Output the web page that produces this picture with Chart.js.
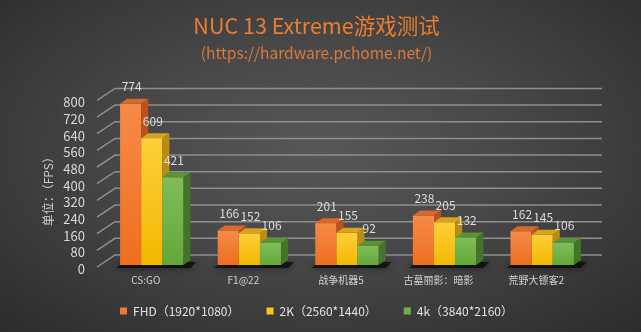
<!DOCTYPE html>
<html>
<head>
<meta charset="utf-8">
<script src="https://cdn.jsdelivr.net/npm/chart.js@4.4.0/dist/chart.umd.min.js"></script>
<style>
  html, body { margin: 0; padding: 0; background: #2c2c2c; }
  #wrap {
    width: 641px; height: 332px;
    background: radial-gradient(ellipse 70% 75% at 50% 45%, #575757 0%, #474747 45%, #2d2d2d 100%);
  }
</style>
</head>
<body>
<div id="wrap"><canvas id="myChart" width="641" height="332"></canvas></div>
<script>
const categories = ['CS:GO', 'F1@22', '战争机器5', '古墓丽影：暗影', '荒野大镖客2'];
const fhdValues = [774, 166, 201, 238, 162];
const k2Values = [609, 152, 155, 205, 145];
const k4Values = [421, 106, 92, 132, 106];
const seriesNames = ['FHD（1920*1080）', '2K（2560*1440）', '4k（3840*2160）'];
const yTicks = [0, 80, 160, 240, 320, 400, 480, 560, 640, 720, 800];
const yTitle = '单位：（FPS）';

const FONT = "'Noto Sans CJK SC', 'Noto Sans', sans-serif";

// front / side / top colours for each series
const faces = [
  { front: ['#f68a48', '#ee6f1f'], side: '#b9521c', roof: '#d9682c' },
  { front: ['#ffcf3a', '#f2b800'], side: '#b88d12', roof: '#d7a420' },
  { front: ['#80bd58', '#62a83a'], side: '#44742a', roof: '#5a9238' },
];
const DX = 7, DY = -5;        // bar depth
const WDX = 18, WDY = -12;    // back wall depth

const fake3d = {
  id: 'fake3d',
  beforeDatasetsDraw(chart) {
    const { ctx, chartArea } = chart;
    const y = chart.scales.y;

    // back wall grid lines
    ctx.save();
    ctx.strokeStyle = '#8e8e8e';
    ctx.lineWidth = 1.5;
    const x0 = chartArea.left - 6;
    yTicks.forEach(v => {
      const py = y.getPixelForValue(v) + 2;
      ctx.beginPath();
      ctx.moveTo(x0, py);
      ctx.lineTo(x0 + WDX, py + WDY);
      ctx.lineTo(chartArea.right + 11, py + WDY);
      ctx.stroke();
    });
    ctx.restore();

    // y axis title
    ctx.save();
    ctx.translate(48, (chartArea.top + chartArea.bottom) / 2 + 7);
    ctx.rotate(-Math.PI / 2);
    ctx.fillStyle = '#cfcfcf';
    ctx.font = '12px ' + FONT;
    ctx.textAlign = 'center';
    ctx.textBaseline = 'middle';
    ctx.fillText(yTitle, 0, 0);
    ctx.restore();

    const metas = [0, 1, 2].map(i => chart.getDatasetMeta(i));

    // floor shadows under each group
    ctx.save();
    ctx.fillStyle = 'rgba(0,0,0,0.6)';
    ctx.shadowColor = 'rgba(0,0,0,0.9)';
    ctx.shadowBlur = 7;
    categories.forEach((c, i) => {
      const a = metas[0].data[i], b = metas[2].data[i];
      const l = a.x - a.width / 2 - 4, r = b.x + b.width / 2 + DX + 6;
      const base = a.base;
      ctx.beginPath();
      ctx.moveTo(l, base + 3);
      ctx.lineTo(r - 6, base + 3);
      ctx.lineTo(r, base - 3);
      ctx.lineTo(l + 8, base - 3);
      ctx.closePath();
      ctx.fill();
    });
    ctx.restore();

    // bars
    metas.forEach((meta, di) => {
      const f = faces[di];
      meta.data.forEach(bar => {
        const l = bar.x - bar.width / 2, r = bar.x + bar.width / 2;
        const t = bar.y, b = bar.base;
        const g = ctx.createLinearGradient(0, t, 0, b);
        g.addColorStop(0, f.front[0]);
        g.addColorStop(1, f.front[1]);
        ctx.fillStyle = g;
        ctx.fillRect(l, t, r - l, b - t);
        ctx.fillStyle = f.side;
        ctx.beginPath();
        ctx.moveTo(r, t); ctx.lineTo(r + DX, t + DY); ctx.lineTo(r + DX, b + DY); ctx.lineTo(r, b);
        ctx.closePath(); ctx.fill();
        ctx.fillStyle = f.roof;
        ctx.beginPath();
        ctx.moveTo(l, t); ctx.lineTo(l + DX, t + DY); ctx.lineTo(r + DX, t + DY); ctx.lineTo(r, t);
        ctx.closePath(); ctx.fill();
      });
    });

    // value labels
    ctx.save();
    ctx.fillStyle = '#dcdcdc';
    ctx.font = '12px ' + FONT;
    ctx.textAlign = 'center';
    ctx.textBaseline = 'middle';
    metas.forEach((meta, di) => {
      const vals = chart.data.datasets[di].data;
      meta.data.forEach((bar, i) => {
        ctx.fillText(String(vals[i]), bar.x + 1, bar.y + DY - 12);
      });
    });
    ctx.restore();
    return false;
  }
};

const ctx = document.getElementById('myChart').getContext('2d');
// eslint-disable-next-line no-undef, no-unused-vars
const chart = new Chart(ctx, {
  type: 'bar',
  data: {
    labels: categories,
    datasets: [
      { label: seriesNames[0], data: fhdValues, backgroundColor: '#f07a2c' },
      { label: seriesNames[1], data: k2Values, backgroundColor: '#ffc414' },
      { label: seriesNames[2], data: k4Values, backgroundColor: '#6fb044' },
    ],
  },
  options: {
    responsive: false,
    animation: false,
    devicePixelRatio: 1,
    datasets: { bar: { categoryPercentage: 0.65, barPercentage: 1.0 } },
    layout: { padding: { left: 42, right: 50, top: 0, bottom: 5 } },
    scales: {
      x: {
        afterFit(scale) { scale.height = 13; },
        grid: { display: false, drawTicks: false },
        border: { display: false },
        ticks: { color: '#d0d0d0', font: { family: FONT, size: 10 }, mirror: true, padding: -21, labelOffset: -6, maxRotation: 0, autoSkip: false },
      },
      y: {
        min: 0, max: 800,
        afterBuildTicks(scale) { scale.ticks = yTicks.map(v => ({ value: v })); },
        afterFit(scale) { scale.width = 61; },
        grid: { display: false, drawTicks: false },
        border: { display: false },
        ticks: { color: '#d9d9d9', font: { family: FONT, size: 13 }, padding: 18, autoSkip: false, labelOffset: 4 },
      },
    },
    plugins: {
      title: {
        display: true, text: 'NUC 13 Extreme游戏测试', color: '#ea7d32',
        font: { family: FONT, size: 21.5, weight: 'normal' }, padding: { top: 13, bottom: 5 },
      },
      subtitle: {
        display: true, text: '(https://hardware.pchome.net/)', color: '#d97a3c',
        font: { family: FONT, size: 15.5 }, padding: { top: 0, bottom: 36 },
      },
      legend: {
        position: 'bottom',
        labels: { color: '#e2e2e2', font: { family: FONT, size: 12 }, boxWidth: 7, boxHeight: 7, padding: 27 },
      },
      tooltip: { enabled: false },
    },
  },
  plugins: [fake3d],
});
</script>
</body>
</html>
